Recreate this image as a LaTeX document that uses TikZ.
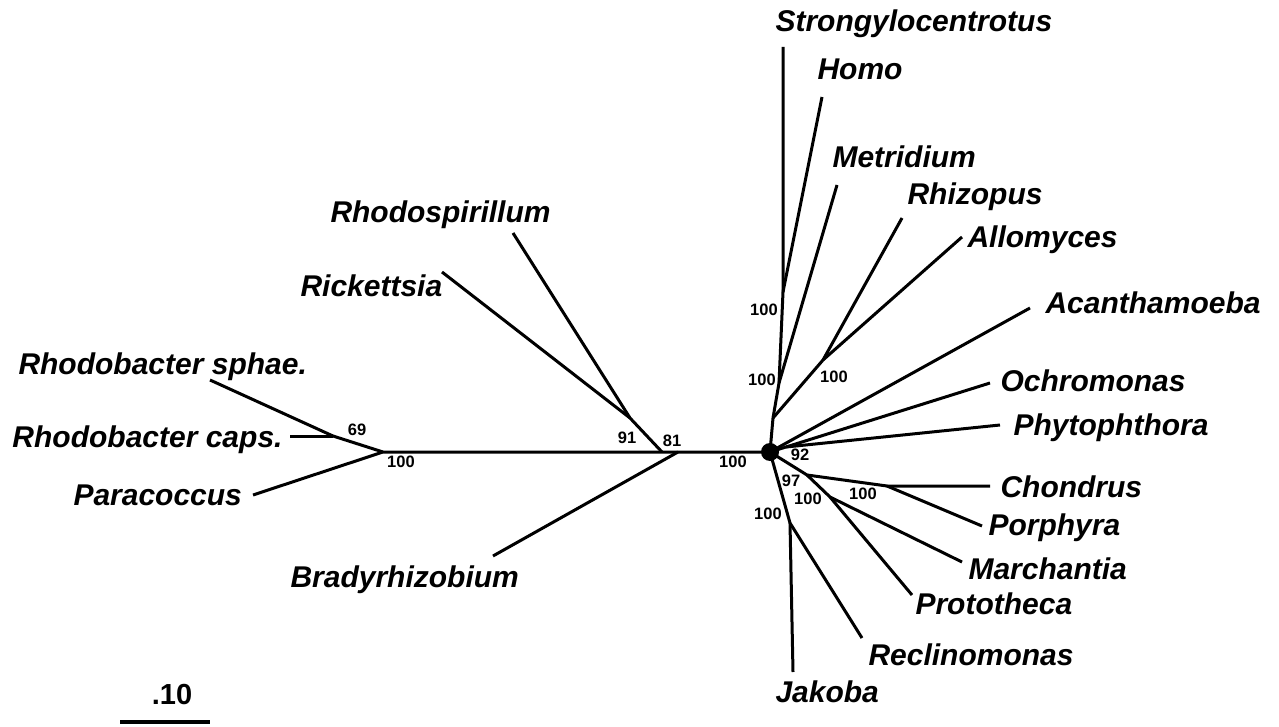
\documentclass[tikz,border=0pt]{standalone}
\usepackage{fontspec}
\setmainfont{Liberation Sans}
\usetikzlibrary{positioning}

\begin{document}
\begin{tikzpicture}[x=1pt, y=-1pt, line width=3pt,
	taxon/.style={font=\fontsize{30}{31}\selectfont\bfseries\itshape, inner sep=0pt, anchor=base west},
	boot/.style={font=\fontsize{16.5}{17}\selectfont\bfseries, inner sep=0pt}]
	\useasboundingbox (0,0) rectangle (1279,727);
	% inner branch points
	\node[circle, fill, inner sep=0pt, minimum size=18pt] (hub) at (770,452) {};
	\coordinate (rbac) at (383,452);
	\coordinate (rsph) at (333,436);
	\coordinate (rick) at (662,452);
	\coordinate (rspi) at (630,418);
	\coordinate (brad) at (678,452);
	\coordinate (opis) at (773,418);
	\coordinate (anim) at (779,383);
	\coordinate (deut) at (783,292);
	\coordinate (fung) at (823,360);
	\coordinate (stra) at (786,447);
	\coordinate (plan) at (807,475);
	\coordinate (rhod) at (887,486);
	\coordinate (gree) at (830,497);
	\coordinate (jako) at (790,523);
	% tips
	\coordinate (t1) at (210,380);
	\coordinate (t2) at (290,436);
	\coordinate (t3) at (253,495);
	\coordinate (t4) at (513,233);
	\coordinate (t5) at (442,272);
	\coordinate (t6) at (493,556);
	\coordinate (t7) at (783,47);
	\coordinate (t8) at (822,97);
	\coordinate (t9) at (837,185);
	\coordinate (t10) at (902,218);
	\coordinate (t11) at (962,237);
	\coordinate (t12) at (1030,308);
	\coordinate (t13) at (990,383);
	\coordinate (t14) at (1000,425);
	\coordinate (t15) at (990,486);
	\coordinate (t16) at (982,526);
	\coordinate (t17) at (962,562);
	\coordinate (t18) at (912,595);
	\coordinate (t19) at (862,638);
	\coordinate (t20) at (793,672);
	% taxa
	\node[taxon] (sphae) at (17,374) {Rhodobacter sphae.};
	\node[taxon] (caps) at (11,447) {Rhodobacter caps.};
	\node[taxon] (para) at (72,505) {Paracoccus};
	\node[taxon] (rspn) at (329,223) {Rhodospirillum};
	\node[taxon] (rckn) at (299,297) {Rickettsia};
	\node[taxon] (brdn) at (289,587) {Bradyrhizobium};
	\node[taxon] (stro) at (774,32) {Strongylocentrotus};
	\node[taxon] (homo) at (816,80) {Homo};
	\node[taxon] (metr) at (831,168) {Metridium};
	\node[taxon] (rhiz) at (906,205) {Rhizopus};
	\node[taxon] (allo) at (966,248) {Allomyces};
	\node[taxon] (acan) at (1044,313) {Acanthamoeba};
	\node[taxon] (ochr) at (999,391) {Ochromonas};
	\node[taxon] (phyt) at (1012,435) {Phytophthora};
	\node[taxon] (chon) at (999,497) {Chondrus};
	\node[taxon] (porp) at (987,535) {Porphyra};
	\node[taxon] (marc) at (967,579) {Marchantia};
	\node[taxon] (prot) at (914,614) {Prototheca};
	\node[taxon] (recl) at (867,665) {Reclinomonas};
	\node[taxon] (jakn) at (774,702) {Jakoba};
	% bootstrap values
	\node[boot] (b1) at (357,430) {69};
	\node[boot] (b2) at (401,462) {100};
	\node[boot] (b3) at (627,438) {91};
	\node[boot] (b4) at (672,441) {81};
	\node[boot] (b5) at (733,462) {100};
	\node[boot] (b6) at (764,310) {100};
	\node[boot] (b7) at (762,380) {100};
	\node[boot] (b8) at (834,377) {100};
	\node[boot] (b9) at (800,455) {92};
	\node[boot] (b10) at (791,481) {97};
	\node[boot] (b11) at (808,499) {100};
	\node[boot] (b12) at (863,494) {100};
	\node[boot] (b13) at (768,514) {100};
	% branches
	\draw (hub.center) -- (brad) -- (rick) -- (rbac) -- (t3);
	\draw (rbac) -- (rsph) -- (t1);
	\draw (rsph) -- (t2);
	\draw (rick) -- (rspi) -- (t4);
	\draw (rspi) -- (t5);
	\draw (brad) -- (t6);
	\draw (hub.center) -- (opis) -- (anim) -- (deut) -- (t7);
	\draw (deut) -- (t8);
	\draw (anim) -- (t9);
	\draw (opis) -- (fung) -- (t10);
	\draw (fung) -- (t11);
	\draw (hub.center) -- (t12);
	\draw (hub.center) -- (stra) -- (t13);
	\draw (stra) -- (t14);
	\draw (hub.center) -- (plan) -- (rhod) -- (t15);
	\draw (rhod) -- (t16);
	\draw (plan) -- (gree) -- (t17);
	\draw (gree) -- (t18);
	\draw (hub.center) -- (jako) -- (t19);
	\draw (jako) -- (t20);
	% scale
	\node[font=\fontsize{29}{30}\selectfont\bfseries, inner sep=0pt] (scl) at (172,695) {.10};
	\coordinate (s1) at (120,722);
	\coordinate (s2) at (210,722);
	\draw[line width=4pt] (s1) -- (s2);
\end{tikzpicture}
\end{document}
